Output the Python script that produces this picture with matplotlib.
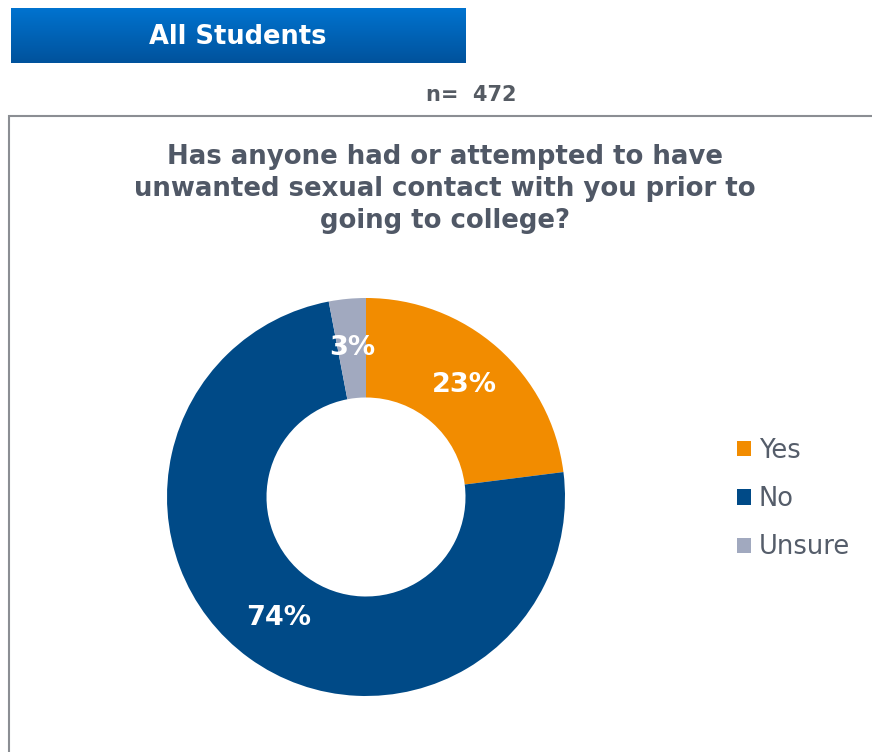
import numpy as np
import matplotlib.pyplot as plt
from matplotlib.patches import Rectangle
from matplotlib.colors import LinearSegmentedColormap

# data
answers = ['Yes', 'No', 'Unsure']
shares = [23, 74, 3]
colors = ['#F28C00', '#004A87', '#A1A9BF']
n_total = 472
title_lines = ['Has anyone had or attempted to have',
               'unwanted sexual contact with you prior to',
               'going to college?']

W, H = 872, 752
fig = plt.figure(figsize=(W / 100, H / 100), dpi=100)
fig.patch.set_facecolor('white')


def fx(px):
    return px / W


def fy(py):
    return 1 - py / H


# header bar with vertical gradient
hdr = fig.add_axes([fx(11), fy(63), fx(454), 55 / H])
grad = LinearSegmentedColormap.from_list('hdr', ['#0073CF', '#00529C'])
hdr.imshow(np.linspace(0, 1, 100).reshape(-1, 1), aspect='auto', cmap=grad,
           extent=[0, 1, 0, 1])
hdr.set_axis_off()
hdr.text(0.5, 0.47, 'All Students', color='white', fontsize=18.5,
         fontweight='bold', ha='center', va='center')

fig.text(fx(471), fy(95), f'n=  {n_total}', color='#555B63', fontsize=15,
         fontweight='bold', ha='center', va='center')

# frame around the chart, open on the right and bottom
fig.add_artist(Rectangle((fx(9), fy(800)), fx(900), (800 - 116) / H,
                         transform=fig.transFigure, fill=False,
                         edgecolor='#8B8E93', linewidth=1.5))

for i, line in enumerate(title_lines):
    fig.text(fx(445), fy(157 + 32 * i), line, color='#505866', fontsize=18.7,
             fontweight='bold', ha='center', va='center')

# donut
R = 199
ax = fig.add_axes([fx(366 - R), fy(497 + R), fx(2 * R), 2 * R / H])
wedges, texts, autotexts = ax.pie(
    shares, colors=colors, startangle=90, counterclock=False,
    autopct=lambda p: f'{p:.0f}%', pctdistance=0.75,
    wedgeprops=dict(width=0.5, edgecolor='none'),
    textprops=dict(color='white', fontsize=19.5, fontweight='bold'))
ax.set_xlim(-1, 1)
ax.set_ylim(-1, 1)
ax.set_aspect('equal')

leg = fig.legend(wedges, answers, loc='center left',
                 bbox_to_anchor=(fx(737), fy(499)), frameon=False,
                 fontsize=18.5, handlelength=0.55, handleheight=0.55,
                 handletextpad=0.3, labelspacing=0.87, borderpad=0,
                 borderaxespad=0)
for t in leg.get_texts():
    t.set_color('#555D6A')

fig.savefig('out.png', dpi=100)
